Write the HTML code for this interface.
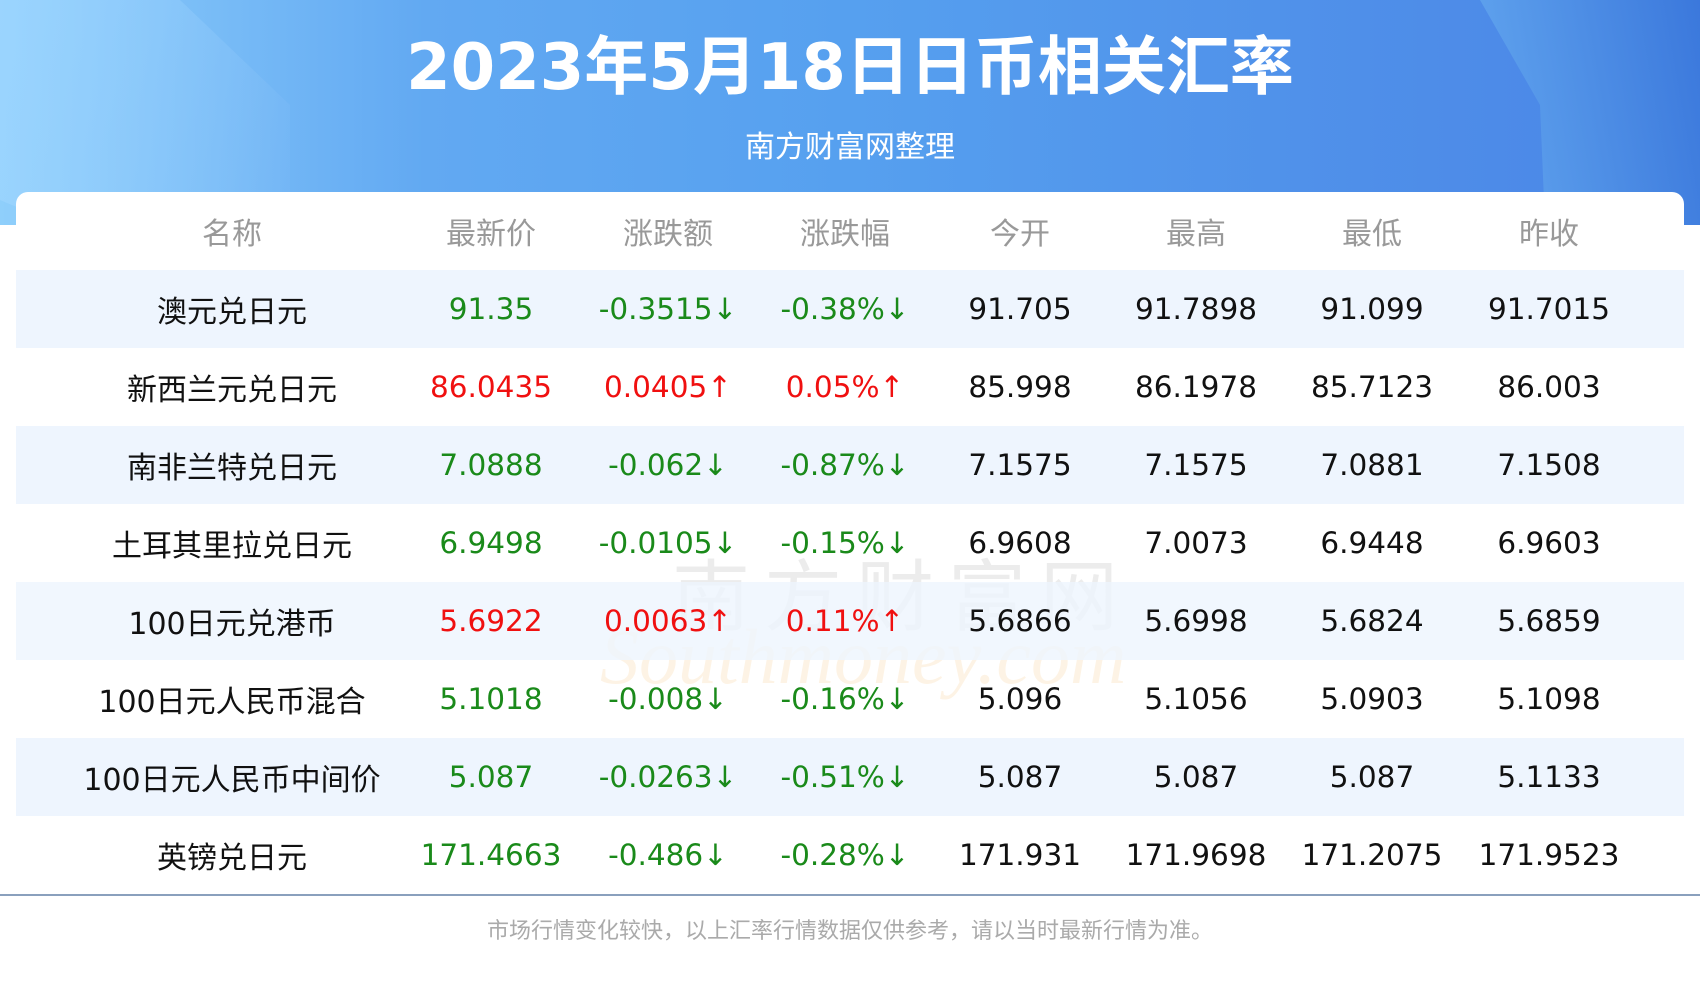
<!DOCTYPE html>
<html><head><meta charset="utf-8"><style>
*{margin:0;padding:0;box-sizing:border-box}
body{width:1700px;height:1000px;overflow:hidden;background:#fff;font-family:"DejaVu Sans","Noto Sans CJK SC",sans-serif;position:relative}
.hdr{position:absolute;left:0;top:0;width:1700px;height:225px;background:linear-gradient(90deg,#8fcffb 0%,#62a9f2 25%,#56a0ef 50%,#4f8fe9 80%,#4a85e6 100%)}
.sh1{position:absolute;left:0;top:0;width:300px;height:225px;background:linear-gradient(100deg,rgba(160,215,255,.7),rgba(120,180,245,.2));clip-path:polygon(0 0,180px 0,290px 105px,290px 225px,60px 225px,0 200px)}
.sh2{position:absolute;right:0;top:0;width:300px;height:225px;background:linear-gradient(260deg,#3b78dc,#6fb5f5);clip-path:polygon(80px 0,300px 0,300px 225px,145px 225px,140px 105px)}
.title{position:absolute;left:0;width:1700px;top:30px;text-align:center;color:#fff;font-weight:bold;font-size:64px;font-family:"DejaVu Sans","Noto Sans CJK SC",sans-serif;line-height:76px}
.sub{position:absolute;left:0;width:1700px;top:126px;text-align:center;color:#fff;font-size:30px;line-height:36px;font-family:"Noto Sans CJK SC",sans-serif}
.card{position:absolute;left:16px;top:192px;width:1668px;height:760px;background:#fff;border-radius:12px 12px 0 0}
.row{position:absolute;left:16px;width:1668px;height:78px}
.row.s{background:#eef5fe}
.c{position:absolute;top:0;height:78px;line-height:78px;width:400px;margin-left:-200px;text-align:center;font-size:29.5px;color:#111;white-space:nowrap}
.h .c{color:#999;font-size:30px;font-family:"Noto Sans CJK SC",sans-serif}
.nm{font-size:30px}
.n{font-family:"Noto Sans CJK SC",sans-serif}
.g{color:#1a8a1a!important}.r{color:#f01010!important}
.line{position:absolute;left:0;top:894px;width:1700px;height:2px;background:#8aa0bd}
.foot{position:absolute;left:0;width:1700px;top:913px;text-align:center;color:#aaa;font-size:22px;font-family:"Noto Sans CJK SC",sans-serif}
.wm{position:absolute;left:672px;top:535px;font-size:78px;color:rgba(200,200,200,.35);font-family:"Noto Sans CJK SC",sans-serif;letter-spacing:14px}
.wm2{position:absolute;left:600px;top:612px;font-size:78px;color:rgba(250,220,180,.35);font-family:"Liberation Serif",serif;font-style:italic}
</style></head><body>
<div class="hdr"><div class="sh1"></div><div class="sh2"></div></div>
<div class="title">2023年5月18日日币相关汇率</div>
<div class="sub">南方财富网整理</div>
<div class="card"></div>
<div class="wm">南方财富网</div>
<div class="wm2">Southmoney.com</div>
<div class="row h" style="top:192px">
<div class="c" style="left:216px">名称</div><div class="c" style="left:475px">最新价</div><div class="c" style="left:652px">涨跌额</div><div class="c" style="left:829px">涨跌幅</div><div class="c" style="left:1004px">今开</div><div class="c" style="left:1180px">最高</div><div class="c" style="left:1356px">最低</div><div class="c" style="left:1533px">昨收</div></div>

<div class="row s" style="top:270px"><div class="c nm n" style="left:216px">澳元兑日元</div><div class="c g" style="left:475px">91.35</div><div class="c g" style="left:652px">-0.3515↓</div><div class="c g" style="left:829px">-0.38%↓</div><div class="c" style="left:1004px">91.705</div><div class="c" style="left:1180px">91.7898</div><div class="c" style="left:1356px">91.099</div><div class="c" style="left:1533px">91.7015</div></div>
<div class="row" style="top:348px"><div class="c nm n" style="left:216px">新西兰元兑日元</div><div class="c r" style="left:475px">86.0435</div><div class="c r" style="left:652px">0.0405↑</div><div class="c r" style="left:829px">0.05%↑</div><div class="c" style="left:1004px">85.998</div><div class="c" style="left:1180px">86.1978</div><div class="c" style="left:1356px">85.7123</div><div class="c" style="left:1533px">86.003</div></div>
<div class="row s" style="top:426px"><div class="c nm n" style="left:216px">南非兰特兑日元</div><div class="c g" style="left:475px">7.0888</div><div class="c g" style="left:652px">-0.062↓</div><div class="c g" style="left:829px">-0.87%↓</div><div class="c" style="left:1004px">7.1575</div><div class="c" style="left:1180px">7.1575</div><div class="c" style="left:1356px">7.0881</div><div class="c" style="left:1533px">7.1508</div></div>
<div class="row" style="top:504px"><div class="c nm n" style="left:216px">土耳其里拉兑日元</div><div class="c g" style="left:475px">6.9498</div><div class="c g" style="left:652px">-0.0105↓</div><div class="c g" style="left:829px">-0.15%↓</div><div class="c" style="left:1004px">6.9608</div><div class="c" style="left:1180px">7.0073</div><div class="c" style="left:1356px">6.9448</div><div class="c" style="left:1533px">6.9603</div></div>
<div class="row s" style="top:582px;background:rgba(238,245,254,.8)"><div class="c nm" style="left:216px">100<span class="n">日元兑港币</span></div><div class="c r" style="left:475px">5.6922</div><div class="c r" style="left:652px">0.0063↑</div><div class="c r" style="left:829px">0.11%↑</div><div class="c" style="left:1004px">5.6866</div><div class="c" style="left:1180px">5.6998</div><div class="c" style="left:1356px">5.6824</div><div class="c" style="left:1533px">5.6859</div></div>
<div class="row" style="top:660px"><div class="c nm" style="left:216px">100<span class="n">日元人民币混合</span></div><div class="c g" style="left:475px">5.1018</div><div class="c g" style="left:652px">-0.008↓</div><div class="c g" style="left:829px">-0.16%↓</div><div class="c" style="left:1004px">5.096</div><div class="c" style="left:1180px">5.1056</div><div class="c" style="left:1356px">5.0903</div><div class="c" style="left:1533px">5.1098</div></div>
<div class="row s" style="top:738px"><div class="c nm" style="left:216px">100<span class="n">日元人民币中间价</span></div><div class="c g" style="left:475px">5.087</div><div class="c g" style="left:652px">-0.0263↓</div><div class="c g" style="left:829px">-0.51%↓</div><div class="c" style="left:1004px">5.087</div><div class="c" style="left:1180px">5.087</div><div class="c" style="left:1356px">5.087</div><div class="c" style="left:1533px">5.1133</div></div>
<div class="row" style="top:816px"><div class="c nm n" style="left:216px">英镑兑日元</div><div class="c g" style="left:475px">171.4663</div><div class="c g" style="left:652px">-0.486↓</div><div class="c g" style="left:829px">-0.28%↓</div><div class="c" style="left:1004px">171.931</div><div class="c" style="left:1180px">171.9698</div><div class="c" style="left:1356px">171.2075</div><div class="c" style="left:1533px">171.9523</div></div>
<div class="line"></div>
<div class="foot">市场行情变化较快，以上汇率行情数据仅供参考，请以当时最新行情为准。</div>
</body></html>
